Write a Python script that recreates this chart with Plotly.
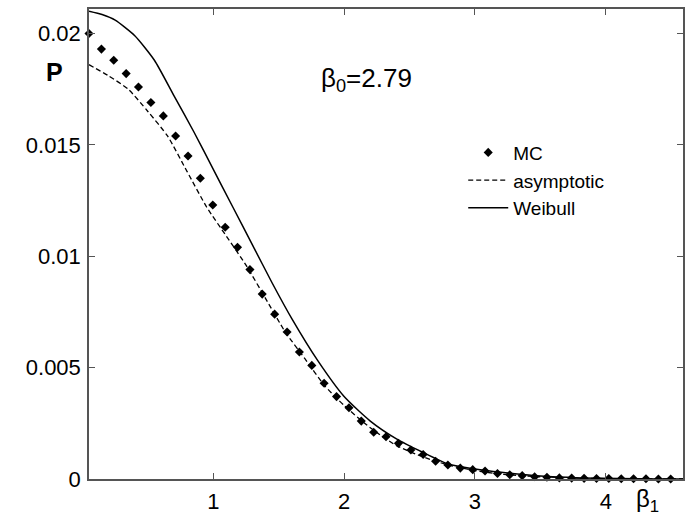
import plotly.graph_objects as go

# MC (Monte Carlo) points
mc_x = [0.050, 0.145, 0.239, 0.334, 0.428, 0.523, 0.618, 0.712, 0.807, 0.901,
        0.996, 1.091, 1.185, 1.280, 1.374, 1.469, 1.564, 1.658, 1.753, 1.847,
        1.942, 2.037, 2.131, 2.226, 2.320, 2.415, 2.510, 2.604, 2.699, 2.793,
        2.888, 2.983, 3.077, 3.172, 3.266, 3.361, 3.456, 3.550, 3.645, 3.739,
        3.834, 3.929, 4.023, 4.118, 4.212, 4.307, 4.402, 4.496, 4.591]
mc_y = [0.0200, 0.0193, 0.0188, 0.0182, 0.0176, 0.0169, 0.0163, 0.0154, 0.0145, 0.0135,
        0.0123, 0.0113, 0.0104, 0.0094, 0.0083, 0.0074, 0.0066, 0.0057, 0.0051, 0.0043,
        0.0037, 0.0032, 0.0026, 0.0021, 0.0019, 0.0016, 0.0013, 0.0011, 0.0008, 0.00063,
        0.00049, 0.00042, 0.00036, 0.00025, 0.00019, 0.00015, 0.00010, 0.00008, 0.00005, 0.00004,
        0.00003, 0.00002, 0.00002, 0.00001, 0.00001, 0.00001, 0.0, 0.0, 0.0]

# asymptotic curve
asym_x = [0.05, 0.2, 0.35, 0.5, 0.65, 0.8, 0.95, 1.1, 1.25, 1.4, 1.55, 1.7, 1.85,
          2.0, 2.2, 2.4, 2.6, 2.8, 3.0, 3.2, 3.5, 3.8, 4.1, 4.4, 4.59]
asym_y = [0.0186, 0.0181, 0.0175, 0.0165, 0.0154, 0.0138, 0.0122, 0.0109, 0.0096, 0.0081,
          0.0066, 0.0054, 0.0042, 0.0033, 0.0023, 0.0015, 0.0010, 0.00062, 0.00038, 0.00022,
          0.00010, 0.00004, 0.00001, 0.000003, 0.0]

# Weibull curve
weib_x = [0.05, 0.15, 0.25, 0.4, 0.55, 0.7, 0.85, 1.0, 1.15, 1.3, 1.45, 1.6, 1.8,
          2.0, 2.2, 2.4, 2.6, 2.8, 3.0, 3.2, 3.5, 3.8, 4.1, 4.4, 4.59]
weib_y = [0.0210, 0.02085, 0.0206, 0.0199, 0.0188, 0.0172, 0.0156, 0.0139, 0.0122, 0.0105,
          0.0088, 0.0072, 0.0053, 0.0037, 0.0026, 0.0018, 0.0012, 0.00066, 0.00045, 0.00030,
          0.00013, 0.00005, 0.00002, 0.000005, 0.0]

x_ticks = [1, 2, 3, 4]
y_ticks = [0, 0.005, 0.01, 0.015, 0.02]
y_tick_text = ["0", "0.005", "0.01", "0.015", "0.02"]

FONT = "Liberation Sans, Arial, sans-serif"

fig = go.Figure()
fig.add_trace(go.Scatter(x=mc_x, y=mc_y, mode="markers", name="MC",
                         marker=dict(symbol="diamond", size=7, color="black"),
                         cliponaxis=False))
fig.add_trace(go.Scatter(x=asym_x, y=asym_y, mode="lines", name="asymptotic",
                         line=dict(color="black", width=1.3, dash="5px,3px",
                                   shape="spline", smoothing=0.6)))
fig.add_trace(go.Scatter(x=weib_x, y=weib_y, mode="lines", name="Weibull",
                         line=dict(color="black", width=1.5,
                                   shape="spline", smoothing=0.6)))

axis_common = dict(showline=True, linecolor="#555555", linewidth=1.5, mirror="ticks",
                   ticks="inside", ticklen=6, tickcolor="#555555", tickwidth=1,
                   showgrid=False, zeroline=False,
                   tickfont=dict(family=FONT, size=22, color="black"))

fig.update_xaxes(range=[0.05, 4.59], tickvals=x_ticks, ticktext=[str(v) for v in x_ticks],
                 ticklabelstandoff=2, **axis_common)
fig.update_yaxes(range=[0, 0.0211], tickvals=y_ticks, ticktext=y_tick_text,
                 ticklabelstandoff=2, **axis_common)

fig.update_layout(
    width=688, height=517,
    margin=dict(l=89, r=3, t=9, b=37),
    paper_bgcolor="white", plot_bgcolor="white",
    font=dict(family=FONT, color="black"),
    showlegend=True,
    legend=dict(x=0.63, y=0.735, xanchor="left", yanchor="top",
                bgcolor="rgba(0,0,0,0)", borderwidth=0,
                font=dict(family=FONT, size=19, color="black"),
                tracegroupgap=0, itemwidth=40),
    annotations=[
        dict(text="<b>P</b>", xref="paper", yref="paper", x=-0.075, y=0.899,
             showarrow=False, font=dict(family=FONT, size=25, color="black")),
        dict(text="β<sub>0</sub>=2.79", xref="paper", yref="paper", x=0.468, y=0.889,
             showarrow=False, font=dict(family=FONT, size=26, color="black")),
        dict(text="β<sub>1</sub>", xref="paper", yref="paper", x=0.963, y=-0.082,
             showarrow=False, font=dict(family=FONT, size=24, color="black")),
    ],
)

fig.write_html("out.html", config={"displayModeBar": False},
               post_script="document.body.style.margin='0';")
